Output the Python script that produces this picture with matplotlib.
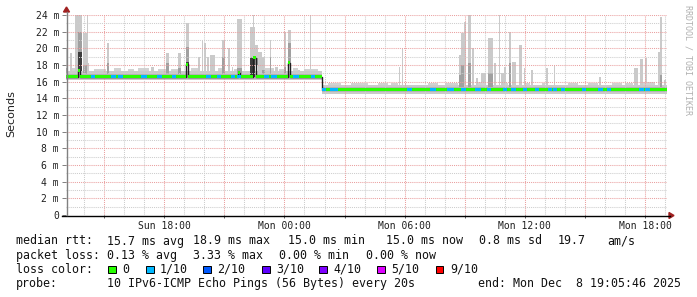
import matplotlib
matplotlib.use("Agg")
import matplotlib.pyplot as plt
import matplotlib.dates as mdates
from matplotlib.lines import Line2D
from matplotlib.patches import Rectangle, Polygon
import numpy as np
from datetime import datetime

# ---------------- data ----------------
DAYS = {"Sun": 7, "Mon": 8}
graph_start = "Sun 13:05:46"
graph_end = "Mon 19:05:46"

# median RTT (ms) as a step function: each value holds until the next time
median_times = ["Sun 13:05:46", "Sun 13:42", "Sun 13:48", "Sun 19:06", "Sun 19:12",
                "Sun 21:42", "Sun 21:48", "Sun 22:27", "Sun 22:36", "Mon 00:12",
                "Mon 00:18", "Mon 01:51"]
median_ms = [16.6, 17.3, 16.6, 18.1, 16.6, 17.1, 16.6, 18.9, 16.6, 18.3, 16.6, 15.1]

# the everyday smoke band around the median (ms)
band_times = ["Sun 13:05:46", "Mon 01:51", "Mon 19:05:46"]
band_outer_lo = [16.15, 14.55]
band_outer_hi = [17.3, 15.65]
band_inner_lo = [16.3, 14.75]
band_inner_hi = [16.95, 15.4]

# light haze just above the band
haze_start = ["Sun 13:24", "Sun 14:30", "Sun 15:30", "Sun 16:10", "Sun 16:40", "Sun 17:40",
              "Sun 18:20", "Sun 19:20", "Sun 20:40", "Sun 21:30", "Sun 23:00", "Sun 23:45",
              "Mon 00:25", "Mon 01:00", "Mon 02:10", "Mon 03:20", "Mon 04:40", "Mon 05:20",
              "Mon 07:10", "Mon 08:00", "Mon 09:40", "Mon 11:00", "Mon 12:00", "Mon 12:50",
              "Mon 14:10", "Mon 15:10", "Mon 16:20", "Mon 17:00", "Mon 17:55"]
haze_end = ["Sun 13:33", "Sun 15:05", "Sun 15:50", "Sun 16:30", "Sun 17:15", "Sun 18:05",
            "Sun 18:40", "Sun 19:40", "Sun 20:55", "Sun 21:40", "Sun 23:30", "Sun 23:58",
            "Mon 00:40", "Mon 01:40", "Mon 02:50", "Mon 04:10", "Mon 05:10", "Mon 05:40",
            "Mon 07:40", "Mon 08:40", "Mon 10:00", "Mon 11:10", "Mon 12:15", "Mon 13:00",
            "Mon 14:40", "Mon 15:40", "Mon 16:50", "Mon 17:25", "Mon 18:30"]
haze_top = [17.6, 17.5, 17.6, 17.5, 17.6, 17.5, 17.5, 17.6, 17.6, 17.5, 17.6, 17.5,
            17.6, 17.5, 15.9, 15.8, 15.9, 15.9, 15.8, 15.9, 16.0, 15.9, 15.9, 15.8,
            15.9, 15.8, 15.9, 15.8, 16.0]

# smoke spikes: start, end, top (light), mid (medium gray), core (dark)
nan = float("nan")
spike_start = ["Sun 13:06", "Sun 13:18", "Sun 13:33", "Sun 13:42", "Sun 13:57", "Sun 14:09",
               "Sun 14:12", "Sun 15:09", "Sun 17:21", "Sun 18:06", "Sun 18:42", "Sun 19:06",
               "Sun 19:42", "Sun 19:54", "Sun 20:00", "Sun 20:09", "Sun 20:18", "Sun 20:54",
               "Sun 21:12", "Sun 21:24", "Sun 21:39", "Sun 22:18", "Sun 22:27", "Sun 22:33",
               "Sun 22:42", "Sun 22:54", "Sun 23:18", "Sun 23:33", "Mon 00:00", "Mon 00:12",
               "Mon 00:42", "Mon 01:12", "Mon 01:18", "Mon 05:42", "Mon 05:51", "Mon 06:00",
               "Mon 08:42", "Mon 08:48", "Mon 08:57", "Mon 09:09", "Mon 09:21", "Mon 09:33",
               "Mon 09:48", "Mon 10:09", "Mon 10:27", "Mon 10:42", "Mon 10:48", "Mon 10:57",
               "Mon 11:12", "Mon 11:21", "Mon 11:42", "Mon 11:57", "Mon 12:18", "Mon 13:03",
               "Mon 13:27", "Mon 15:42", "Mon 17:27", "Mon 17:45", "Mon 18:00", "Mon 18:39",
               "Mon 18:45", "Mon 18:57"]
spike_end = ["Sun 13:12", "Sun 13:24", "Sun 13:42", "Sun 13:54", "Sun 14:09", "Sun 14:12",
             "Sun 14:15", "Sun 15:15", "Sun 17:30", "Sun 18:15", "Sun 18:51", "Sun 19:15",
             "Sun 19:48", "Sun 19:57", "Sun 20:06", "Sun 20:15", "Sun 20:33", "Sun 21:03",
             "Sun 21:18", "Sun 21:27", "Sun 21:54", "Sun 22:33", "Sun 22:30", "Sun 22:42",
             "Sun 22:54", "Sun 23:03", "Sun 23:21", "Sun 23:42", "Mon 00:06", "Mon 00:21",
             "Mon 00:48", "Mon 01:24", "Mon 01:21", "Mon 05:45", "Mon 05:54", "Mon 06:03",
             "Mon 08:54", "Mon 08:57", "Mon 09:03", "Mon 09:18", "Mon 09:27", "Mon 09:39",
             "Mon 10:03", "Mon 10:24", "Mon 10:33", "Mon 10:45", "Mon 10:57", "Mon 11:03",
             "Mon 11:18", "Mon 11:33", "Mon 11:51", "Mon 12:00", "Mon 12:24", "Mon 13:09",
             "Mon 13:30", "Mon 15:48", "Mon 17:39", "Mon 17:54", "Mon 18:06", "Mon 18:48",
             "Mon 18:51", "Mon 19:03"]
spike_top = [20.0, 19.4, 24.5, 24.5, 21.8, 24.5, 18.2, 20.6, 17.8, 19.5, 19.5, 23.0,
             19.0, 21.0, 20.6, 19.0, 19.2, 21.0, 20.0, 17.8, 23.5, 22.6, 24.5, 20.4,
             19.6, 19.0, 21.0, 17.8, 22.0, 22.2, 17.4, 17.4, 24.5, 17.8, 20.0, 15.9,
             19.2, 21.8, 23.2, 24.5, 20.0, 16.4, 17.0, 21.2, 18.2, 24.5, 17.0, 17.8,
             22.0, 18.4, 20.4, 17.6, 17.4, 17.6, 18.0, 16.6, 17.6, 18.7, 18.8, 19.6,
             23.8, 16.2]
spike_mid = [17.6, nan, nan, 22.0, 18.0, nan, nan, 18.2, nan, 18.2, 17.6, 20.2,
             nan, nan, nan, nan, nan, 19.0, nan, nan, 17.6, 19.0, nan, 18.0,
             nan, 17.4, 19.0, nan, 17.8, 20.6, nan, nan, nan, nan, nan, nan,
             16.8, 18.0, nan, 18.2, nan, nan, nan, 17.0, nan, nan, nan, nan,
             18.2, nan, nan, nan, nan, nan, nan, nan, nan, nan, nan, nan,
             16.8, nan]
spike_core = [nan, nan, nan, 19.6, nan, nan, nan, nan, nan, nan, nan, 18.4,
              nan, nan, nan, nan, nan, nan, nan, nan, nan, 18.8, nan, nan,
              nan, nan, nan, nan, nan, 18.3, nan, nan, nan, nan, nan, nan,
              nan, nan, nan, nan, nan, nan, nan, nan, nan, nan, nan, nan,
              nan, nan, nan, nan, nan, nan, nan, nan, nan, nan, nan, nan,
              nan, nan]

# periods with 1/10 packet loss
loss_start = ["Sun 14:21", "Sun 15:21", "Sun 15:42", "Sun 16:51", "Sun 17:39", "Sun 18:24",
              "Sun 20:06", "Sun 20:39", "Sun 21:21", "Sun 21:39", "Sun 23:00", "Sun 23:21",
              "Mon 00:27", "Mon 01:21", "Mon 01:51", "Mon 02:15", "Mon 02:27", "Mon 06:06",
              "Mon 07:15", "Mon 08:06", "Mon 08:48", "Mon 09:30", "Mon 10:06", "Mon 10:54",
              "Mon 11:18", "Mon 11:54", "Mon 12:30", "Mon 13:09", "Mon 13:24", "Mon 13:48",
              "Mon 14:51", "Mon 15:39", "Mon 16:06", "Mon 17:42", "Mon 18:00"]
loss_end = ["Sun 14:33", "Sun 15:36", "Sun 15:57", "Sun 17:09", "Sun 17:54", "Sun 18:36",
            "Sun 20:21", "Sun 20:51", "Sun 21:33", "Sun 21:51", "Sun 23:15", "Sun 23:39",
            "Mon 00:45", "Mon 01:33", "Mon 02:03", "Mon 02:30", "Mon 02:39", "Mon 06:21",
            "Mon 07:33", "Mon 08:27", "Mon 09:03", "Mon 09:48", "Mon 10:18", "Mon 11:06",
            "Mon 11:33", "Mon 12:06", "Mon 12:42", "Mon 13:21", "Mon 13:36", "Mon 14:00",
            "Mon 15:03", "Mon 15:54", "Mon 16:18", "Mon 17:57", "Mon 18:15"]
loss_key = ["1/10"] * len(loss_start)

loss_labels = ["0", "1/10", "2/10", "3/10", "4/10", "5/10", "9/10"]
loss_colors = ["#26ff00", "#00b8ff", "#0059ff", "#5e00ff", "#7e00ff", "#dd00ff", "#ff0000"]

y_ticks = [0, 2, 4, 6, 8, 10, 12, 14, 16, 18, 20, 22, 24]
y_labels = ["0", "2 m", "4 m", "6 m", "8 m", "10 m", "12 m", "14 m", "16 m",
            "18 m", "20 m", "22 m", "24 m"]
x_major = ["Sun 15:00", "Sun 18:00", "Sun 21:00", "Mon 00:00", "Mon 03:00", "Mon 06:00",
           "Mon 09:00", "Mon 12:00", "Mon 15:00", "Mon 18:00"]
x_major_labels = ["", "Sun 18:00", "", "Mon 00:00", "", "Mon 06:00", "", "Mon 12:00",
                  "", "Mon 18:00"]

y_title = "Seconds"
watermark = "RRDTOOL / TOBI OETIKER"
row1 = [("median rtt:", 16), ("15.7 ms avg", 107), ("18.9 ms max", 193), ("15.0 ms min", 288),
        ("15.0 ms now", 386), ("0.8 ms sd", 479), ("19.7", 558), ("am/s", 607)]
row2 = [("packet loss:", 16), ("0.13 % avg", 107), ("3.33 % max", 193), ("0.00 % min", 279),
        ("0.00 % now", 366)]
row3_label = "loss color:"
row3_box_x = [108, 146, 203, 262, 319, 377, 436]
row4 = [("probe:", 16), ("10 IPv6-ICMP Echo Pings (56 Bytes) every 20s", 107),
        ("end: Mon Dec  8 19:05:46 2025", 478)]

# ---------------- helpers ----------------
W, H = 697, 297
MONO = "DejaVu Sans Mono"


def T(s):
    day, clock = s.split()
    parts = [int(p) for p in clock.split(":")]
    while len(parts) < 3:
        parts.append(0)
    return mdates.date2num(datetime(2025, 12, DAYS[day], parts[0], parts[1], parts[2]))


def fx(px):
    return px / W


def fy(py):
    return 1 - py / H


mx = np.array([T(s) for s in median_times])
my = np.array(median_ms)


def median_at(x):
    i = np.searchsorted(mx, x, side="right") - 1
    return my[max(i, 0)]


# ---------------- figure ----------------
fig = plt.figure(figsize=(W / 100, H / 100), dpi=100, facecolor="white")
ax = fig.add_axes([fx(66), fy(215), (667 - 66) / W, 200 / H])
ax.set_facecolor("white")
x0, x1 = T(graph_start), T(graph_end)
ax.set_xlim(x0, x1)
ax.set_ylim(0, 24)

LIGHT, MID, CORE = "#cacaca", "#a0a0a0", "#3c3c3c"


def bars(starts, ends, tops, color, z):
    for s, e, top in zip(starts, ends, tops):
        if np.isnan(top):
            continue
        a, b = T(s), T(e)
        base = median_at(a + 1e-6)
        ax.bar(a, top - base, width=b - a, bottom=base, align="edge", color=color,
               linewidth=0, zorder=z)


bars(spike_start, spike_end, spike_top, LIGHT, 1.0)
bars(haze_start, haze_end, haze_top, "#d2d2d2", 1.0)

bx = [T(s) for s in band_times]
ax.fill_between(bx, band_outer_lo + [band_outer_lo[-1]], band_outer_hi + [band_outer_hi[-1]],
                step="post", color=LIGHT, linewidth=0, zorder=1.1)
bars(spike_start, spike_end, spike_mid, MID, 1.2)
ax.fill_between(bx, band_inner_lo + [band_inner_lo[-1]], band_inner_hi + [band_inner_hi[-1]],
                step="post", color="#b4b4b4", linewidth=0, zorder=1.3)
bars(spike_start, spike_end, spike_core, CORE, 1.4)

# median line
mx_full = np.append(mx, x1)
my_full = np.append(my, my[-1])
ax.step(mx_full, my_full, where="post", color="#202020", linewidth=1.0, zorder=3)
hw = 0.18
ax.fill_between(mx_full, my_full - hw, my_full + hw, step="post", color=loss_colors[0],
                linewidth=0, zorder=3.1)
for s, e, k in zip(loss_start, loss_end, loss_key):
    a, b = T(s), T(e)
    m = median_at(a + 1e-6)
    ax.bar(a, 2 * hw, width=b - a, bottom=m - hw, align="edge",
           color=loss_colors[loss_labels.index(k)], linewidth=0, zorder=3.2)

# grid / ticks
ax.set_axisbelow(False)
ax.set_yticks(y_ticks)
ax.set_yticklabels(y_labels)
ax.set_yticks(np.arange(1, 24, 2), minor=True)
ax.set_xticks([T(s) for s in x_major])
ax.set_xticklabels(x_major_labels)
minor_x = np.arange(np.ceil(x0 * 24), np.floor(x1 * 24) + 1) / 24.0
ax.set_xticks(minor_x, minor=True)
ax.grid(which="major", color="#eaa0a0", linestyle=(0, (1, 1)), linewidth=0.75)
ax.grid(which="minor", color="#cdcdcd", linestyle=(0, (1, 1)), linewidth=0.75)
ax.tick_params(axis="y", which="major", length=3, width=0.7, color="#808080", pad=2.0,
               labelsize=7, direction="out")
ax.tick_params(axis="x", which="major", length=2, width=0.7, color="#606060", pad=2.5,
               labelsize=7, direction="out")
ax.tick_params(which="minor", length=0)
for lab in ax.get_xticklabels() + ax.get_yticklabels():
    lab.set_fontfamily(MONO)
    lab.set_color("#202020")
for sp in ax.spines.values():
    sp.set_visible(False)

# axis lines and arrows
fig.add_artist(Line2D([fx(62), fx(670)], [fy(215.5), fy(215.5)], color="black",
                      linewidth=1.0, transform=fig.transFigure))
fig.add_artist(Line2D([fx(66.5), fx(66.5)], [fy(215), fy(12)], color="#808080",
                      linewidth=1.0, transform=fig.transFigure))
fig.add_artist(Polygon([(fx(63.5), fy(12)), (fx(69.5), fy(12)), (fx(66.5), fy(7))],
                       closed=True, color="#a02020", transform=fig.transFigure))
fig.add_artist(Polygon([(fx(669), fy(212.5)), (fx(669), fy(218.5)), (fx(674), fy(215.5))],
                       closed=True, color="#a02020", transform=fig.transFigure))

# titles
fig.text(fx(11), fy(114), y_title, rotation=90, ha="center", va="center",
         fontsize=8, family="DejaVu Sans", color="#202020")
fig.text(fx(688), fy(60), watermark, rotation=270, ha="center", va="center",
         fontsize=6, family=MONO, color="#b0b0b0")

# legend
LFS = 8.4
TXT = "#111111"
for txt, x in row1:
    fig.text(fx(x), fy(241), txt, ha="left", va="center", fontsize=LFS, family=MONO, color=TXT)
for txt, x in row2:
    fig.text(fx(x), fy(255.3), txt, ha="left", va="center", fontsize=LFS, family=MONO, color=TXT)
fig.text(fx(16), fy(269.3), row3_label, ha="left", va="center", fontsize=LFS, family=MONO, color=TXT)
for bxp, lab, col in zip(row3_box_x, loss_labels, loss_colors):
    fig.add_artist(Rectangle((fx(bxp), fy(273)), 7.5 / W, 7.5 / H, facecolor=col,
                             edgecolor="black", linewidth=0.7, transform=fig.transFigure))
    fig.text(fx(bxp + 14), fy(269.3), lab, ha="left", va="center", fontsize=LFS, family=MONO,
             color=TXT)
for txt, x in row4:
    fig.text(fx(x), fy(283.5), txt, ha="left", va="center", fontsize=LFS, family=MONO, color=TXT)

fig.savefig("out.png", dpi=100, facecolor="white")
